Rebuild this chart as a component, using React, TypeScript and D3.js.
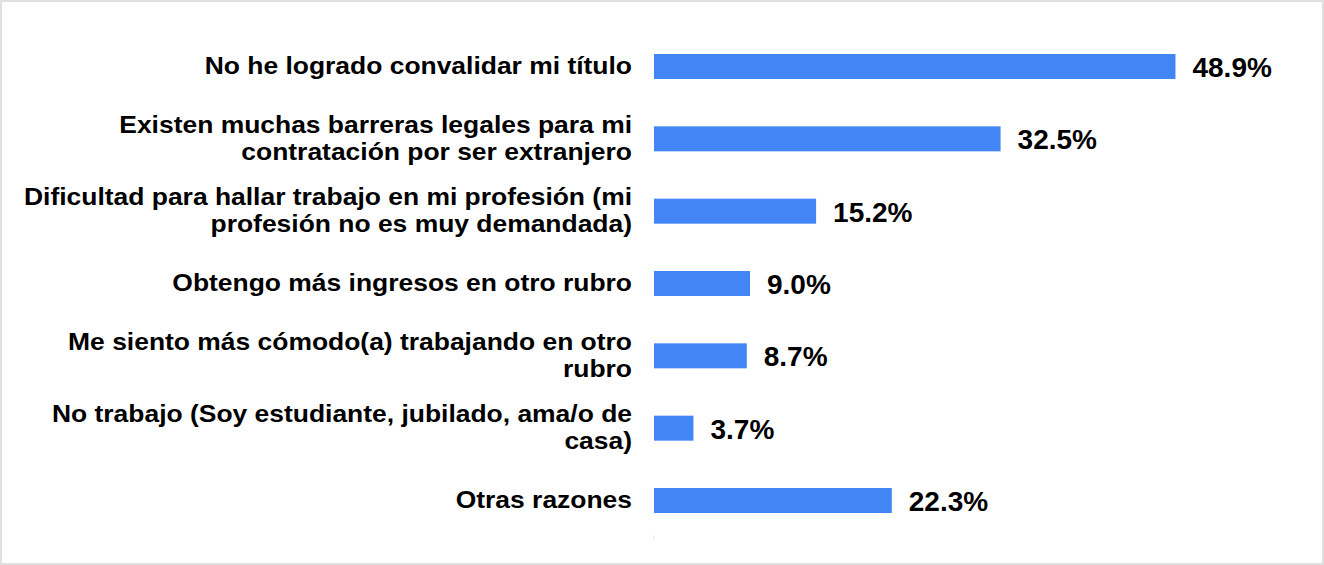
import React, { useEffect, useRef } from 'react';
import * as d3 from 'd3';

const categories = [
  'No he logrado convalidar mi título',
  'Existen muchas barreras legales para mi\ncontratación por ser extranjero',
  'Dificultad para hallar trabajo en mi profesión (mi\nprofesión no es muy demandada)',
  'Obtengo más ingresos en otro rubro',
  'Me siento más cómodo(a) trabajando en otro\nrubro',
  'No trabajo (Soy estudiante, jubilado, ama/o de\ncasa)',
  'Otras razones',
];
const values = [48.9, 32.5, 15.2, 9.0, 8.7, 3.7, 22.3];

const App: React.FC = () => {
  const svgRef = useRef<SVGSVGElement>(null);
  const width = 1324;
  const height = 565;

  useEffect(() => {
    document.body.style.margin = '0';
    if (!svgRef.current) return;
    const svg = d3.select(svgRef.current);
    svg.selectAll('*').remove();

    const x = d3.scaleLinear().domain([0, 50]).range([654, 654 + 533.2]);
    const y = d3.scalePoint<string>().domain(categories).range([66.5, 500.5]);
    const barH = 25;
    const font = '"Liberation Sans", Arial, sans-serif';

    // frame
    svg.append('rect')
      .attr('x', 1)
      .attr('y', 1)
      .attr('width', width - 2)
      .attr('height', height - 2)
      .style('fill', '#fff')
      .style('stroke', '#e0e0e0')
      .style('stroke-width', 2);

    // bars
    svg.selectAll('rect.bar')
      .data(values)
      .enter()
      .append('rect')
      .attr('class', 'bar')
      .attr('x', x(0))
      .attr('y', (_, i) => (y(categories[i]) as number) - barH / 2)
      .attr('width', d => x(d) - x(0))
      .attr('height', barH)
      .style('fill', '#4285f4');

    // value labels
    svg.selectAll('text.val')
      .data(values)
      .enter()
      .append('text')
      .attr('class', 'val')
      .attr('x', d => x(d) + 17)
      .attr('y', (_, i) => (y(categories[i]) as number) + 10.5)
      .style('font-family', font)
      .style('font-size', '28px')
      .style('font-weight', 'bold')
      .style('fill', '#000')
      .text(d => `${d.toFixed(1)}%`);

    // category labels (glyphs are horizontally stretched in the original)
    const labels = svg.append('g').attr('transform', 'translate(632,0) scale(1.15,1)');
    categories.forEach(cat => {
      const lines = cat.split('\n');
      const cy = y(cat) as number;
      const lh = 27.5;
      const t = labels.append('text')
        .attr('text-anchor', 'end')
        .style('font-family', font)
        .style('font-size', '23px')
        .style('font-weight', 'bold')
        .style('fill', '#000');
      lines.forEach((ln, j) => {
        const off = (j - (lines.length - 1) / 2) * lh;
        t.append('tspan')
          .attr('x', 0)
          .attr('y', cy + off + 7.5)
          .text(ln);
      });
    });

    // tiny axis remnant
    svg.append('line')
      .attr('x1', x(0))
      .attr('x2', x(0))
      .attr('y1', 535)
      .attr('y2', 540)
      .style('stroke', '#e8e8e8')
      .style('stroke-width', 1);
  }, []);

  return <svg ref={svgRef} width={width} height={height} style={{ display: 'block' }} />;
};

export default App;
